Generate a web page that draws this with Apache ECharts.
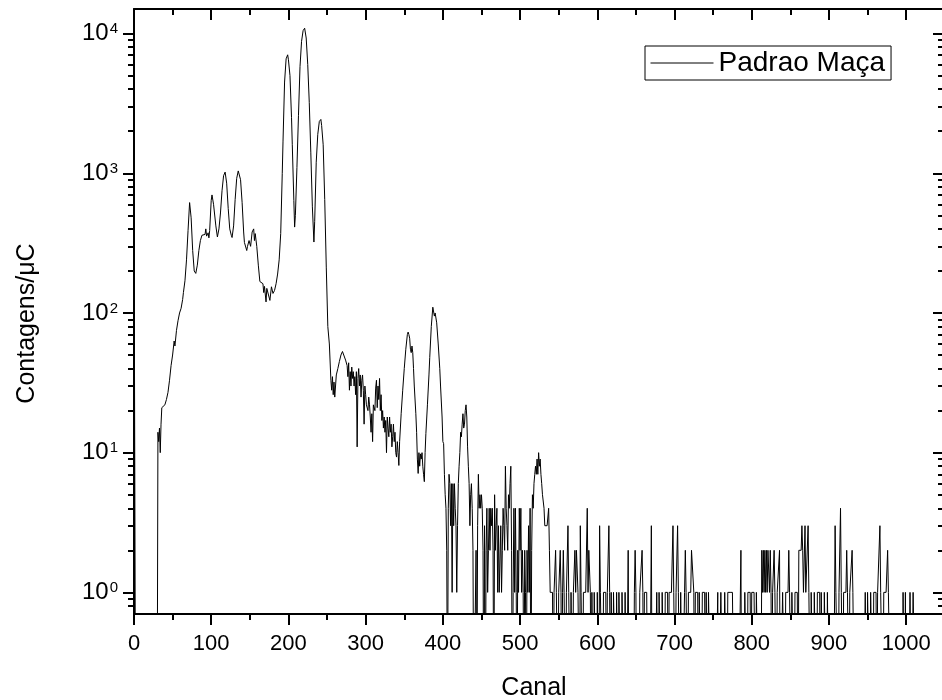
<!DOCTYPE html>
<html>
<head>
<meta charset="utf-8">
<script src="https://cdn.jsdelivr.net/npm/echarts@6/dist/echarts.min.js"></script>
<style>
html,body{margin:0;padding:0;background:#fff;}
#c{width:942px;height:700px;}
</style>
</head>
<body>
<div id="c"></div>
<script>
// ---- data: spectrum "Padrao Maça" (counts per µC vs channel) ----
const seriesName = 'Padrao Maça';

// channels 0..405 (peak region), read at irregular spacing
const peakChan = [0,1,2,30,31,32,33,34,35,36,38,40,42,44,46,48,50,52,53,55,57,59,61,63,64,66,68,70,72,74,76,78,80,82,84,86,88,90,92,93,94,96,97,98,100,101,103,104,106,108,110,112,114,116,118,120,122,124,126,127,129,131,133,135,136,138,140,142,143,145,146,147,149,151,153,155,156,157,159,161,163,165,167,168,169,170,171,172,174,176,178,180,182,184,186,188,190,192,193,195,197,199,200,202,204,205,207,208,209,211,213,215,217,219,221,223,225,227,229,231,233,234,236,238,240,242,243,245,247,249,251,253,255,256,257,258,259,260,261,262,264,266,268,270,272,274,276,277,278,279,280,281,282,283,284,285,286,287,288,289,290,291,292,293,294,295,296,297,298,299,300,301,303,304,305,306,307,308,309,310,312,313,314,315,316,317,318,319,320,321,322,323,324,325,326,327,328,329,330,331,332,333,334,335,336,337,338,339,340,341,342,343,344,346,348,350,352,354,355,356,357,358,359,360,361,362,363,365,366,367,368,369,370,371,372,373,374,375,376,377,378,380,382,383,385,387,388,389,390,391,392,394,396,397,399,400,401,402,403,404,405];
const peakCnt = [620,620,0,0,14,12,15,10,16,21,21,22,24,27,33,42,50,63,58,75,88,100,108,125,140,170,240,390,617,480,280,200,192,220,280,330,360,370,365,400,355,375,345,390,640,700,600,620,420,350,400,520,750,960,1020,850,560,400,360,347,420,650,920,1040,1050,900,620,380,320,310,280,300,330,300,380,400,330,370,300,220,168,165,162,140,155,150,120,150,154,123,154,138,145,162,190,240,370,1000,1700,4500,6600,7050,6500,5000,2500,1600,640,412,500,1100,2600,5800,8800,10500,10930,9300,6000,3200,1400,575,322,450,1200,1900,2350,2430,2200,1600,650,213,80,60,33,28,35,26,32,25,30,36,40,45,50,53,54,46,42,35,44,28,38,30,41,34,38,30,35,26,38,11,34,40,30,36,25,33,36,28,16,30,26,22,20,25,22,18,14,19,12,22,20,29,33,21,30,24,34,20,26,17,20,15,18,14,17,10,18,15,13,18,14,16,11,13,16,12,14,10,9.3,12,10,8.1,12,19,28,40,55,70,73,70,66,55,52,58,52,40,30,19,14,9,7.1,10,8,9.8,9,10,8,7,6.2,10,13.7,22,36,48,80,110,108,95,100,99,85,60,40,30,18,12,11.6,7,5,4,2];

// channels 406..540, one value per channel
const noiseStart = 406;
const noiseCnt = [0,
 4,7,6,3,6,1,6,3,6,
 4,3,1,3,6,8,10,14,13,16,
 19,15,16,20,22,18,11,8,6,3,
 5,6,4,2,0,0,0,2,0,3,
 7,4,5,4,5,4,2,0,3,0,
 2,4,1,2,4,2,4,3,4,2,
 0,5,2,3,4,1,3,1,1,3,
 1,2,4,3,2,8,4,3,2,5,
 4,6,8,2,0,1,4,1,4,1,
 0,2,1,4,2,4,1,2,1,0,
 2,1,0,2,1,3,1,4,0,2,
 5,4,6,7,8,7,9,7,10,8,
 9,7,6,5,5,4,3,3,3,3,
 3,4,2,1,1];

// channels 541..1023, one value per channel
const tailStart = 541;
const tailCnt = [
 1,1,0,1,1,2,1,1,0,1, 1,2,1,0,1,2,1,1,0,1, 1,3,1,1,0,1,1,0,1,1, 2,1,2,2,1,1,0,3,1,1,
 0,1,1,1,1,1,4,1,2,2, 1,0,1,1,0,1,1,1,0,1, 1,0,3,1,1,1,0,1,1,1, 1,0,1,1,3,1,0,1,1,0,
 1,1,1,0,1,1,0,1,1,1, 0,1,1,1,0,1,1,0,0,2, 0,0,0,0,0,0,0,1,2,1, 0,0,0,0,1,1,1,2,1,0,
 1,1,1,1,0,0,0,0,0,3, 0,0,0,0,0,0,1,1,0,1, 1,1,0,1,1,1,0,1,1,1, 1,0,1,1,1,1,1,3,1,1,
 0,1,1,3,1,1,0,1,1,0, 0,0,1,2,1,1,0,1,1,1, 1,2,2,2,1,0,1,1,1,1, 0,1,1,1,0,1,1,1,1,0,
 1,1,0,1,1,1,0,0,0,0, 0,0,0,0,0,1,0,0,0,1, 1,1,0,0,1,1,1,0,1,1, 1,1,1,1,1,1,0,0,0,0,
 0,0,0,0,0,2,0,0,0,0, 1,1,1,0,1,1,1,1,0,1, 1,1,1,1,0,1,1,1,0,0, 0,0,2,1,2,1,2,1,2,1,
 2,2,1,2,1,0,1,1,2,1, 1,0,1,1,1,2,0,0,0,1, 1,1,0,1,1,1,1,2,1,1, 0,1,1,1,0,1,1,1,1,0,
 2,2,2,2,3,2,1,1,3,1, 1,1,3,1,1,0,1,1,1,0, 1,1,1,0,1,1,1,1,0,1, 1,1,0,1,1,1,0,1,1,0,
 0,0,0,0,0,0,0,3,1,1, 1,0,1,1,4,1,1,0,1,1, 1,1,2,1,1,0,1,1,1,2, 1,1,0,0,0,0,0,0,0,0,
 0,0,0,0,0,0,1,1,0,1, 1,1,0,1,1,1,0,1,1,1, 1,0,1,1,1,3,1,1,1,0, 1,1,1,1,1,2,1,1,1,0,
 0,0,0,0,0,0,0,0,0,0, 0,0,0,0,0,1,1,0,1,0, 0,0,0,0,1,1,0,0,1,1, 1,0,0,0,0,0,0,0,0,0,
 0,0,0];

// axis ticks
const xMajorTicks = [0,100,200,300,400,500,600,700,800,900,1000];
const xMinorTicks = [50,150,250,350,450,550,650,750,850,950];
const yMajorTicks = [1,10,100,1000,10000];
const yMinorTicks = [0.8,0.9,2,3,4,5,6,7,8,9,20,30,40,50,60,70,80,90,200,300,400,500,600,700,800,900,2000,3000,4000,5000,6000,7000,8000,9000];

// ---- build series data ----
const raw = [];
peakChan.forEach((c, i) => raw.push([c, peakCnt[i]]));
noiseCnt.forEach((v, i) => raw.push([noiseStart + i, v]));
tailCnt.forEach((v, i) => raw.push([tailStart + i, v]));
// zero counts cannot be shown on a log axis: send them below the axis floor (clipped)
const ZERO_FLOOR = 0.1;
const plotData = raw.map(([c, v]) => [c, v > 0 ? v : ZERO_FLOOR]);

const FONT = '"Liberation Sans", Arial, Helvetica, sans-serif';
const X_MIN = 0, X_MAX = 1049, Y_MIN = 0.7, Y_MAX = 15000;
const BLACK = '#000';

function xAxisDef(position, ticks, len, inside, showLine, withLabels) {
  return {
    type: 'value', position, min: X_MIN, max: X_MAX,
    axisLine: { show: showLine, onZero: false, lineStyle: { color: BLACK, width: 2 } },
    axisTick: { show: true, inside, length: len, customValues: ticks, lineStyle: { color: BLACK, width: 2 } },
    axisLabel: withLabels ? {
      show: true, customValues: ticks, margin: 19, color: BLACK, fontSize: 22, fontFamily: FONT,
      formatter: v => String(v)
    } : { show: false },
    splitLine: { show: false }, minorTick: { show: false }, minorSplitLine: { show: false }
  };
}
function yAxisDef(position, ticks, len, inside, showLine, withLabels) {
  return {
    type: 'log', logBase: 10, position, min: Y_MIN, max: Y_MAX,
    axisLine: { show: showLine, onZero: false, lineStyle: { color: BLACK, width: 2 } },
    axisTick: { show: true, inside, length: len, customValues: ticks, lineStyle: { color: BLACK, width: 2 } },
    axisLabel: withLabels ? {
      show: true, customValues: ticks, margin: 16, color: BLACK, fontFamily: FONT,
      formatter: v => '{b|10}{s|' + Math.round(Math.log10(v)) + '}',
      rich: {
        b: { fontSize: 24, lineHeight: 28, fontFamily: FONT, color: BLACK },
        s: { fontSize: 15, lineHeight: 15, verticalAlign: 'top', padding: [2, 0, 0, 1], fontFamily: FONT, color: BLACK }
      }
    } : { show: false },
    splitLine: { show: false }, minorTick: { show: false }, minorSplitLine: { show: false }
  };
}

const xAxes = [
  xAxisDef('bottom', xMajorTicks, 11, false, true, true),
  xAxisDef('bottom', xMinorTicks, 6, false, false, false),
  xAxisDef('top', xMajorTicks, 11, true, true, false),
  xAxisDef('top', xMinorTicks, 6, true, false, false)
];
Object.assign(xAxes[0], {
  name: 'Canal', nameLocation: 'middle', nameGap: 62,
  nameTextStyle: { fontSize: 25, fontFamily: FONT, color: BLACK, padding: [0, 10, 0, 0] }
});
const yAxes = [
  yAxisDef('left', yMajorTicks, 11, false, true, true),
  yAxisDef('left', yMinorTicks, 6, false, false, false),
  yAxisDef('right', yMajorTicks, 11, true, true, false),
  yAxisDef('right', yMinorTicks, 6, true, false, false)
];
Object.assign(yAxes[0], {
  name: 'Contagens/μC', nameLocation: 'middle', nameGap: 94,
  nameTextStyle: { fontSize: 25, fontFamily: FONT, color: BLACK, padding: [0, 24, 0, 0] }
});

const chart = echarts.init(document.getElementById('c'), null, { renderer: 'canvas' });
chart.setOption({
  animation: false,
  backgroundColor: '#fff',
  grid: { left: 134, width: 810, top: 9, bottom: 86, containLabel: false, outerBoundsMode: 'none' },
  legend: {
    data: [seriesName], left: 645, top: 46,
    padding: [3, 6, 3, 5], itemWidth: 63, itemHeight: 14,
    borderColor: BLACK, borderWidth: 1, borderRadius: 0,
    itemStyle: { color: 'rgba(0,0,0,0)', borderWidth: 0, opacity: 0 },
    lineStyle: { color: BLACK, width: 1 },
    textStyle: { fontSize: 28, lineHeight: 28, fontFamily: FONT, color: BLACK }
  },
  xAxis: xAxes,
  yAxis: yAxes,
  series: [{
    name: seriesName, type: 'line', xAxisIndex: 0, yAxisIndex: 0,
    data: plotData, symbol: 'none', showSymbol: false, clip: true,
    lineStyle: { color: BLACK, width: 1 }, itemStyle: { color: BLACK },
    silent: true
  }]
});
</script>
</body>
</html>
